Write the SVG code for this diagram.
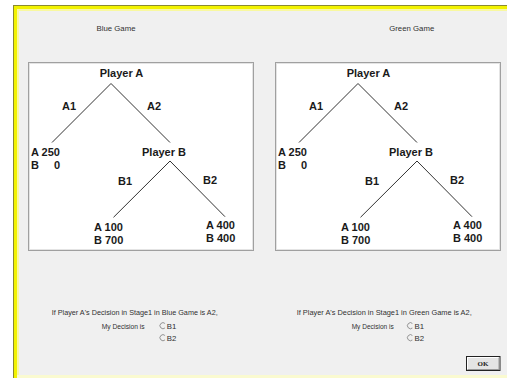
<svg xmlns="http://www.w3.org/2000/svg" width="507" height="378" viewBox="0 0 507 378">
<style>
.bold{font-family:"Liberation Sans",Arial,sans-serif;font-size:11px;font-weight:bold;fill:#1a1a1a}
.small{font-family:"Liberation Sans",Arial,sans-serif;font-size:7.8px;fill:#303030}
.edge{stroke:#333;stroke-width:1;fill:none}
.box{fill:#fff;stroke:#a0a0a0;stroke-width:1}
.radio{fill:none;stroke:#888;stroke-width:0.9}
</style>
<defs>
<g id="radio">
<path class="radio" d="M 2.1 -2.1 A 3 3 0 1 0 2.1 2.1"/>
<path d="M 2.1 -2.1 A 3 3 0 0 1 2.1 2.1" fill="none" stroke="#f0f0f0" stroke-width="0.9"/>
</g>
</defs>
<rect x="0" y="0" width="507" height="378" fill="#fff"/>
<rect x="13" y="5" width="494" height="373" fill="#f0f0f0"/>
<line x1="13.5" y1="5" x2="13.5" y2="378" stroke="#8a8a30" stroke-width="1"/>
<line x1="13" y1="5.5" x2="507" y2="5.5" stroke="#8a8a30" stroke-width="1"/>
<rect x="14" y="6" width="3" height="372" fill="#f2f200"/>
<rect x="14" y="6" width="493" height="3" fill="#f2f200"/>
<rect x="17" y="9" width="2" height="369" fill="#f8f8a0"/>
<rect x="17" y="9" width="490" height="2" fill="#f8f8a0"/>
<rect x="17" y="375" width="490" height="3" fill="#fafad0"/>

<g id="blue-game">
<text class="small" x="116" y="30.8" text-anchor="middle">Blue Game</text>
<rect class="box" x="28.5" y="62.5" width="225" height="188"/>
<rect x="29.5" y="63.5" width="223" height="186" fill="none" stroke="#e4e4e4" stroke-width="1"/>
</g>
<g id="green-game">
<text class="small" x="411.7" y="30.8" text-anchor="middle">Green Game</text>
<rect class="box" x="275.5" y="62.5" width="225" height="188"/>
<rect x="276.5" y="63.5" width="223" height="186" fill="none" stroke="#e4e4e4" stroke-width="1"/>
</g>

<g id="connectors">
<line class="edge" x1="111" y1="83.5" x2="52" y2="142.5"/>
<line class="edge" x1="111" y1="83.5" x2="170" y2="142.5"/>
<line class="edge" x1="170" y1="161" x2="113.5" y2="217.3"/>
<line class="edge" x1="170" y1="161" x2="225" y2="216.7"/>
<line class="edge" x1="358" y1="83.5" x2="299" y2="142.5"/>
<line class="edge" x1="358" y1="83.5" x2="417" y2="142.5"/>
<line class="edge" x1="417" y1="161" x2="360.5" y2="217.3"/>
<line class="edge" x1="417" y1="161" x2="472" y2="216.7"/>
</g>

<g id="blue-tree">
<g id="blue-playerA"><text class="bold" x="121.5" y="76.5" text-anchor="middle">Player A</text></g>
<text class="bold" x="62" y="110">A1</text>
<text class="bold" x="147" y="110">A2</text>
<g id="blue-payoff-A1"><text class="bold" x="31" y="156.3">A 250</text><text class="bold" x="31" y="169">B</text><text class="bold" x="54" y="169">0</text></g>
<g id="blue-playerB"><text class="bold" x="164" y="156" text-anchor="middle">Player B</text></g>
<text class="bold" x="118" y="185">B1</text>
<text class="bold" x="203" y="184">B2</text>
<g id="blue-payoff-B1"><text class="bold" x="94" y="231.3">A 100</text><text class="bold" x="94" y="243.5">B 700</text></g>
<g id="blue-payoff-B2"><text class="bold" x="206" y="229.3">A 400</text><text class="bold" x="206" y="242">B 400</text></g>
</g>

<g id="green-tree">
<g id="green-playerA"><text class="bold" x="368.5" y="76.5" text-anchor="middle">Player A</text></g>
<text class="bold" x="309" y="110">A1</text>
<text class="bold" x="394" y="110">A2</text>
<g id="green-payoff-A1"><text class="bold" x="278" y="156.3">A 250</text><text class="bold" x="278" y="169">B</text><text class="bold" x="301" y="169">0</text></g>
<g id="green-playerB"><text class="bold" x="411" y="156" text-anchor="middle">Player B</text></g>
<text class="bold" x="365" y="185">B1</text>
<text class="bold" x="450" y="184">B2</text>
<g id="green-payoff-B1"><text class="bold" x="341" y="231.3">A 100</text><text class="bold" x="341" y="243.5">B 700</text></g>
<g id="green-payoff-B2"><text class="bold" x="453" y="229.3">A 400</text><text class="bold" x="453" y="242">B 400</text></g>
</g>

<g id="blue-decision">
<text class="small" x="51.7" y="314.8" textLength="166" lengthAdjust="spacingAndGlyphs">If Player A's Decision in Stage1 in Blue Game is A2,</text>
<text class="small" x="101.7" y="328.5" textLength="43" lengthAdjust="spacingAndGlyphs">My Decision is</text>
<use href="#radio" x="163" y="325.7"/>
<text class="small" x="166.7" y="328.5">B1</text>
<use href="#radio" x="163" y="337.7"/>
<text class="small" x="166.7" y="340.5">B2</text>
</g>

<g id="green-decision">
<text class="small" x="296.7" y="315" textLength="175" lengthAdjust="spacingAndGlyphs">If Player A's Decision in Stage1 in Green Game is A2,</text>
<text class="small" x="351.7" y="328.5" textLength="42" lengthAdjust="spacingAndGlyphs">My Decision is</text>
<use href="#radio" x="410.5" y="325.7"/>
<text class="small" x="414.5" y="328.5">B1</text>
<use href="#radio" x="410.5" y="337.7"/>
<text class="small" x="414.5" y="340.5">B2</text>
</g>

<g id="ok-button">
<rect x="466.5" y="356.5" width="33.5" height="14" fill="#e4e4e4" stroke="#222" stroke-width="1"/>
<path d="M 467.5 369.5 V 357.5 H 499" fill="none" stroke="#fff" stroke-width="1"/>
<path d="M 467.5 369.5 H 499 V 357.5" fill="none" stroke="#999" stroke-width="1"/>
<text x="483" y="366.2" text-anchor="middle" font-family="'Liberation Serif',serif" font-size="7" font-weight="bold" fill="#222">OK</text>
</g>
</svg>
